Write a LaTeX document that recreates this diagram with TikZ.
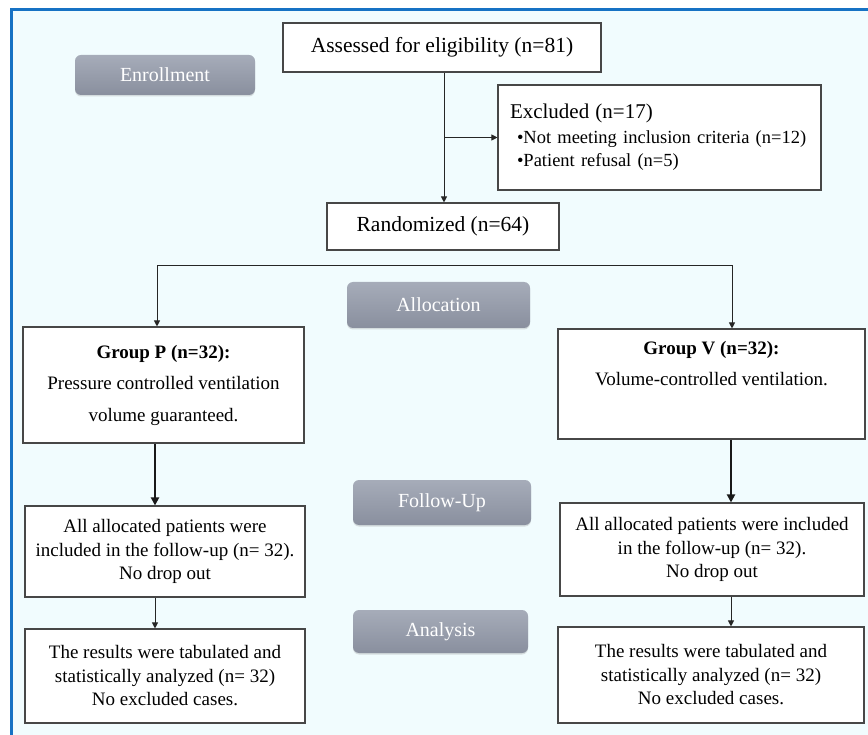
\documentclass[tikz,border=0pt]{standalone}
\usepackage{fontspec}
\setmainfont{Liberation Serif}
\usetikzlibrary{arrows.meta,shadows}
\definecolor{bgc}{RGB}{241,252,254}
\definecolor{frameblue}{RGB}{22,114,196}
\definecolor{labtop}{RGB}{166,172,185}
\definecolor{labbot}{RGB}{137,143,158}
\tikzset{
 fbox/.style={draw=black!72, line width=1.1pt, fill=white, inner sep=0pt, align=center, font=\fontsize{19}{23.5}\selectfont},
 lab/.style={rounded corners=6pt, top color=labtop, bottom color=labbot, draw=none, text=white, inner sep=0pt, font=\fontsize{20}{20}\selectfont, drop shadow={opacity=0.25, shadow xshift=0pt, shadow yshift=-1.5pt}},
 arr/.style={-{Triangle[length=6pt,width=6pt]}, line width=1pt, draw=black!85},
 thickarr/.style={-{Triangle[length=8pt,width=8pt]}, line width=2.2pt, draw=black!90},
}
\begin{document}
\begin{tikzpicture}[x=1pt,y=-1pt]
\useasboundingbox (0,0) rectangle (868,735);
\fill[bgc] (11,9.5) rectangle (868,735);
\draw[frameblue, line width=2.2pt] (11.5,735) -- (11.5,9.5) -- (868,9.5);

% labels
\node[lab, minimum width=180pt, minimum height=40pt] (enr) at (165,75) {Enrollment};
\node[lab, minimum width=183pt, minimum height=46pt] (alloc) at (438.5,305) {Allocation};
\node[lab, minimum width=178pt, minimum height=45pt] (fol) at (442,502.5) {Follow-Up};
\node[lab, minimum width=175pt, minimum height=43pt] (ana) at (440.5,631.5) {Analysis};

% boxes
\node[fbox, font=\fontsize{21.5}{26}\selectfont, minimum width=318pt, minimum height=49pt] (ass) at (442,47.5) {Assessed for eligibility (n=81)};
\node[fbox, align=left, text width=299pt, inner xsep=12pt, minimum height=105pt, font=\fontsize{18.5}{23}\selectfont] (exc) at (659.5,137.5) {{\fontsize{21}{21}\selectfont Excluded (n=17)}\\[2pt] \hspace*{7pt}•Not meeting inclusion criteria (n=12)\\ \hspace*{7pt}•Patient refusal (n=5)};
\node[fbox, font=\fontsize{21.5}{26}\selectfont, minimum width=232pt, minimum height=47pt] (rand) at (443,226.5) {Randomized (n=64)};
\coordinate (split) at (443,266);
\node[fbox, minimum width=281pt, minimum height=116pt, font=\fontsize{19}{31.5}\selectfont] (gp) at (163.5,385) {\textbf{Group P (n=32):}\\ Pressure controlled ventilation\\ volume guaranteed.};
\node[fbox, minimum width=307pt, minimum height=110pt, font=\fontsize{19}{31.5}\selectfont] (gv) at (711.5,384) {\textbf{Group V (n=32):}\\ Volume-controlled ventilation.\\ \strut};
\node[fbox, minimum width=280pt, minimum height=91pt] (fp) at (165,551.5) {All allocated patients were\\ included in the follow-up (n= 32).\\ No drop out};
\node[fbox, minimum width=304pt, minimum height=93pt] (fv) at (712,549.5) {All allocated patients were included\\ in the follow-up (n= 32).\\ No drop out};
\node[fbox, minimum width=280pt, minimum height=94pt] (rp) at (165,676) {The results were tabulated and\\ statistically analyzed (n= 32)\\ No excluded cases.};
\node[fbox, minimum width=306pt, minimum height=96pt] (rv) at (711,675) {The results were tabulated and\\ statistically analyzed (n= 32)\\ No excluded cases.};

% connectors
\coordinate (trunk) at (444,0);
\coordinate (lx) at (157,0);
\coordinate (rx) at (732,0);
\coordinate (px) at (155,0);
\coordinate (vx) at (731,0);
\draw[arr] (trunk |- ass.south) -- (trunk |- rand.north);
\draw[arr] (trunk |- exc.west) -- (exc.west);
\draw[arr] (split) -| (lx |- gp.north);
\draw[arr] (split) -| (rx |- gv.north);
\draw[thickarr] (px |- gp.south) -- (px |- fp.north);
\draw[thickarr] (vx |- gv.south) -- (vx |- fv.north);
\draw[arr] (px |- fp.south) -- (px |- rp.north);
\draw[arr] (vx |- fv.south) -- (vx |- rv.north);
\end{tikzpicture}
\end{document}
